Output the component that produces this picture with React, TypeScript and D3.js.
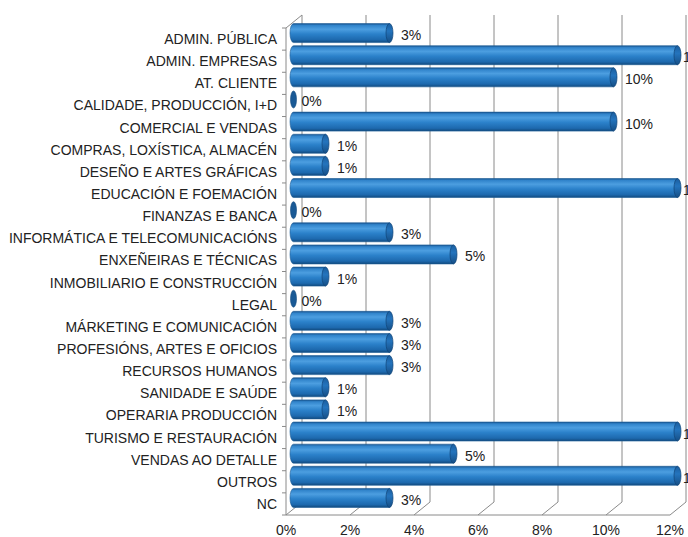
import React from "react";
import * as d3 from "d3";

const categories = [
  "ADMIN. PÚBLICA",
  "ADMIN. EMPRESAS",
  "AT. CLIENTE",
  "CALIDADE, PRODUCCIÓN, I+D",
  "COMERCIAL E VENDAS",
  "COMPRAS, LOXÍSTICA, ALMACÉN",
  "DESEÑO E ARTES GRÁFICAS",
  "EDUCACIÓN E FOEMACIÓN",
  "FINANZAS E BANCA",
  "INFORMÁTICA E TELECOMUNICACIÓNS",
  "ENXEÑEIRAS E TÉCNICAS",
  "INMOBILIARIO E CONSTRUCCIÓN",
  "LEGAL",
  "MÁRKETING E COMUNICACIÓN",
  "PROFESIÓNS, ARTES E OFICIOS",
  "RECURSOS HUMANOS",
  "SANIDADE E SAÚDE",
  "OPERARIA PRODUCCIÓN",
  "TURISMO E RESTAURACIÓN",
  "VENDAS AO DETALLE",
  "OUTROS",
  "NC",
];

const values = [3, 14, 10, 0, 10, 1, 1, 14, 0, 3, 5, 1, 0, 3, 3, 3, 1, 1, 14, 5, 14, 3];

const xTicks = [0, 2, 4, 6, 8, 10, 12];

const W = 688;
const H = 537;
const DX = 16;
const DY = -13;
const BX = 7.5;
const BY = -6;
const RX = 3.5;
const BAR_H = 19;

export default function App() {
  const x = d3.scaleLinear().domain([0, 12]).range([286, 670]);
  const y = d3.scaleBand<string>().domain(categories).range([28, 515]);
  const bw = y.bandwidth();
  const backTop = 28 + DY;
  const backBottom = 515 + DY;
  const frontBottom = 515;
  const grid = "#8a8a8a";
  const fmt = (v: number) => `${Math.round(v)}%`;
  const xMax = x(12) + BX;

  return (
    <svg
      width={W}
      height={H}
      style={{ position: "absolute", left: 0, top: 0, background: "#fff" }}
      fontFamily="'Liberation Sans', Arial, sans-serif"
    >
      <defs>
        <linearGradient id="cyl" x1="0" y1="0" x2="0" y2="1">
          <stop offset="0" stopColor="#1a5590" />
          <stop offset="0.1" stopColor="#3184cb" />
          <stop offset="0.3" stopColor="#4c9ee0" />
          <stop offset="0.55" stopColor="#2b81ca" />
          <stop offset="0.85" stopColor="#1d69ae" />
          <stop offset="1" stopColor="#124a7e" />
        </linearGradient>
        <linearGradient id="cap" x1="0" y1="0" x2="0" y2="1">
          <stop offset="0" stopColor="#1a5e9f" />
          <stop offset="0.4" stopColor="#2474bd" />
          <stop offset="1" stopColor="#164f86" />
        </linearGradient>
      </defs>

      {/* back wall gridlines */}
      {xTicks.map((t) => (
        <g key={`g${t}`} stroke={grid} strokeWidth={1} fill="none">
          <line x1={x(t) + DX} x2={x(t) + DX} y1={backTop} y2={backBottom} />
          <line x1={x(t) + DX} x2={x(t)} y1={backBottom} y2={frontBottom} />
        </g>
      ))}
      {/* floor front edge and left wall */}
      <g stroke={grid} strokeWidth={1} fill="none">
        <line x1={x(0)} x2={x(12)} y1={frontBottom} y2={frontBottom} />
        <line x1={x(0)} x2={x(0)} y1={28} y2={frontBottom} />
        <line x1={x(0)} x2={x(0) + DX} y1={28} y2={backTop} />
        {categories.map((c) => (
          <line key={`t${c}`} x1={x(0) - 4} x2={x(0)} y1={y(c)!} y2={y(c)!} />
        ))}
        <line x1={x(0) - 4} x2={x(0)} y1={frontBottom} y2={frontBottom} />
      </g>

      {/* bars */}
      {categories.map((c, i) => {
        const v = values[i];
        const cy = y(c)! + bw / 2 + BY;
        const x0 = x(0) + BX;
        const clipped = x(v) + BX > xMax;
        const x1 = Math.min(x(v) + BX, xMax);
        const top = cy - BAR_H / 2;
        const bot = cy + BAR_H / 2;
        const labelX = clipped ? x1 + RX + 2 : x1 + RX + 8;
        if (v <= 0) {
          return (
            <g key={c}>
              <ellipse cx={x0} cy={cy} rx={3} ry={BAR_H / 2 - 1} fill="#1a5a96" stroke="#124a7e" strokeWidth={0.6} />
              <text x={x0 + 8} y={cy + 7} fontSize={14} fill="#222">
                {fmt(v)}
              </text>
            </g>
          );
        }
        const body = `M${x0},${top} L${x1},${top} L${x1},${bot} L${x0},${bot} A${RX},${BAR_H / 2} 0 0 1 ${x0},${top} Z`;
        return (
          <g key={c}>
            <path d={body} fill="url(#cyl)" stroke="#1a5a95" strokeWidth={0.6} />
            <ellipse cx={x1} cy={cy} rx={RX} ry={BAR_H / 2} fill="url(#cap)" stroke="#104477" strokeWidth={0.7} />
            <text x={labelX} y={cy + 7} fontSize={14} fill="#222">
              {fmt(v)}
            </text>
          </g>
        );
      })}

      {/* category labels */}
      {categories.map((c) => (
        <text key={`l${c}`} x={277} y={y(c)! + bw / 2 + 5} fontSize={14} fill="#222" textAnchor="end">
          {c}
        </text>
      ))}

      {/* x axis labels */}
      {xTicks.map((t) => (
        <text key={`x${t}`} x={x(t)} y={535} fontSize={14} fill="#222" textAnchor="middle">
          {`${t}%`}
        </text>
      ))}
    </svg>
  );
}
